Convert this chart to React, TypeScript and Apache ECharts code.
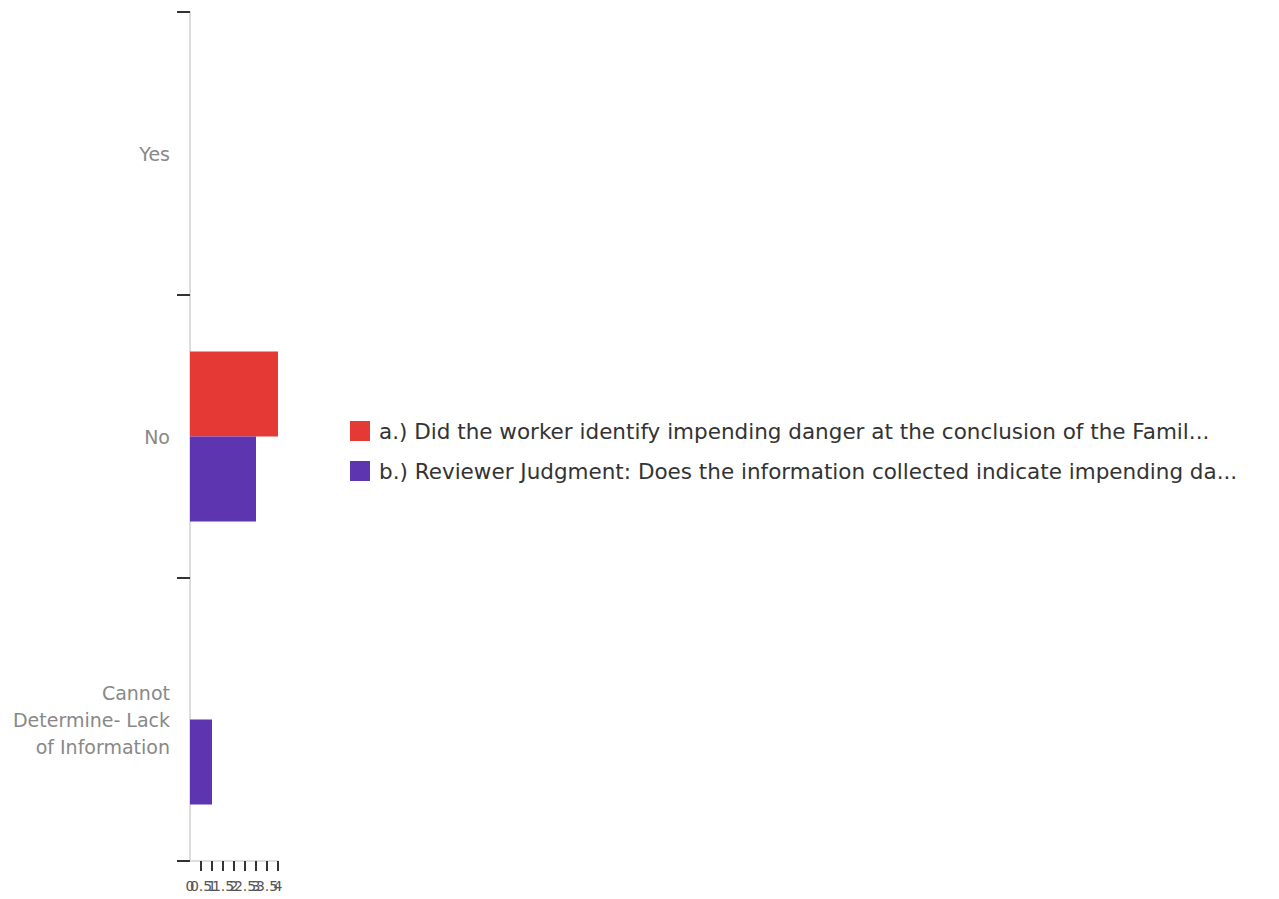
import React, { useEffect, useRef } from "react";
import * as echarts from "echarts";

const categories = ["Yes", "No", "Cannot Determine- Lack of Information"];
const categoryLabels: Record<string, string> = {
  "Yes": "Yes",
  "No": "No",
  "Cannot Determine- Lack of Information": "Cannot\nDetermine- Lack\nof Information",
};
const seriesNames = [
  "a.) Did the worker identify impending danger at the conclusion of the Famil...",
  "b.) Reviewer Judgment: Does the information collected indicate impending da...",
];
const seriesA = [0, 4, 0];
const seriesB = [0, 3, 1];
const colors = ["#e53935", "#5e35b1"];
const xMin = 0;
const xMax = 4;
const xStep = 0.5;
const xTickValues = [0.5, 1, 1.5, 2, 2.5, 3, 3.5, 4];

export default function App() {
  const ref = useRef<HTMLDivElement>(null);
  useEffect(() => {
    if (!ref.current) return;
    const chart = echarts.init(ref.current, null, { renderer: "svg" });
    const isWhole = (v: number) => Math.abs(v - Math.round(v)) < 1e-9;
    const baseAxis = {
      type: "value",
      min: xMin,
      max: xMax,
      interval: xStep,
      position: "bottom",
      splitLine: { show: false },
    };
    chart.setOption({
      animation: false,
      textStyle: { fontFamily: "DejaVu Sans" },
      grid: { left: 190, top: 12, width: 88, bottom: 38, containLabel: false },
      legend: {
        orient: "vertical",
        left: 345,
        top: 415,
        itemWidth: 20,
        itemHeight: 20,
        itemGap: 18,
        icon: "rect",
        textStyle: { fontSize: 21.5, color: "#333", fontFamily: "DejaVu Sans", padding: [0, 0, 0, 4] },
        data: seriesNames,
      },
      xAxis: [
        {
          ...baseAxis,
          axisLine: { show: true, lineStyle: { color: "#ddd", width: 2 } },
          axisTick: { show: true, length: 10, lineStyle: { color: "#333", width: 2 }, customValues: xTickValues },
          axisLabel: {
            color: "#555",
            fontSize: 14,
            margin: 18,
            showMinLabel: true,
            showMaxLabel: true,
            formatter: (v: number) => (isWhole(v) ? String(v) : ""),
          },
        },
        {
          ...baseAxis,
          axisLine: { show: false },
          axisTick: { show: false },
          axisLabel: {
            color: "#555",
            fontSize: 14,
            margin: 18,
            showMinLabel: true,
            showMaxLabel: true,
            formatter: (v: number) => (isWhole(v) ? "" : String(v)),
          },
        },
      ],
      yAxis: {
        type: "category",
        inverse: true,
        data: categories,
        axisLine: { show: true, lineStyle: { color: "#ddd", width: 2 } },
        axisTick: { show: true, length: 13, lineStyle: { color: "#333", width: 2 } },
        axisLabel: {
          color: "#888",
          fontSize: 19,
          margin: 20,
          lineHeight: 27,
          formatter: (v: string) => categoryLabels[v] ?? v,
        },
      },
      series: [
        {
          name: seriesNames[0],
          type: "bar",
          data: seriesA,
          itemStyle: { color: colors[0] },
          barCategoryGap: "40%",
          barGap: "0%",
        },
        {
          name: seriesNames[1],
          type: "bar",
          data: seriesB,
          itemStyle: { color: colors[1] },
          barCategoryGap: "40%",
          barGap: "0%",
        },
      ],
    });
    return () => chart.dispose();
  }, []);
  return <div ref={ref} style={{ position: "absolute", left: 0, top: 0, width: 1279, height: 899 }} />;
}
